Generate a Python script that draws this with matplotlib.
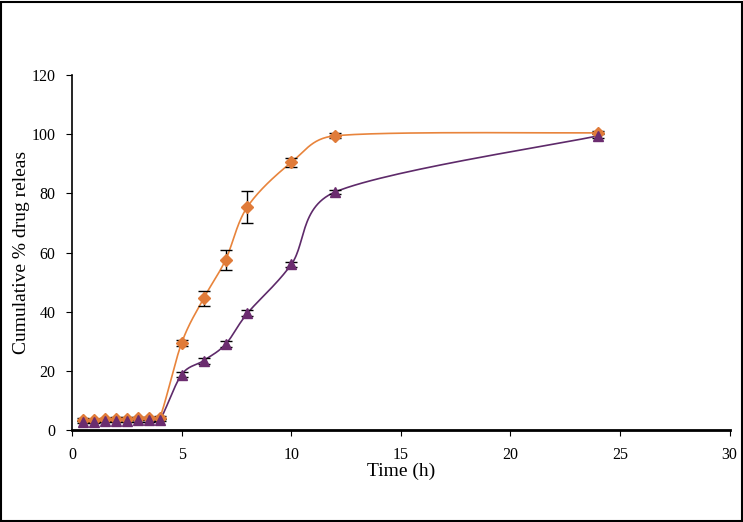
import numpy as np
import matplotlib.pyplot as plt
from matplotlib.patches import Rectangle

# Datos
tiempo = [0.5, 1, 1.5, 2, 2.5, 3, 3.5, 4, 5, 6, 7, 8, 10, 12, 24]
naranja = [3.5, 3.4, 3.6, 3.8, 3.8, 4.0, 4.1, 4.2, 29.5, 44.5, 57.5, 75.5, 90.5, 99.5, 100.5]
err_naranja = [0.5, 0.5, 0.5, 0.5, 0.5, 0.5, 0.5, 0.5, 1.0, 2.5, 3.5, 5.5, 1.5, 0.8, 0.5]
morado = [2.8, 2.8, 3.0, 3.2, 3.2, 3.3, 3.3, 3.4, 18.8, 23.5, 29.0, 39.5, 56.0, 80.5, 99.5]
err_morado = [0.4, 0.4, 0.4, 0.4, 0.4, 0.4, 0.4, 0.4, 1.0, 1.0, 1.0, 1.0, 1.0, 0.8, 0.8]

# escala aproximada en píxeles por unidad (para suavizar en espacio de pantalla)
SX, SY = 21.9, 2.96


def suavizar(x, y, n=30):
    # curva Bezier que pasa por todos los puntos (como la línea suavizada de Excel)
    p = np.column_stack([np.asarray(x, float) * SX, np.asarray(y, float) * SY])
    p = np.vstack([p[0], p, p[-1]])
    t = np.linspace(0, 1, n)[:, None]
    out = []
    for i in range(1, len(p) - 2):
        p0, p1, p2, p3 = p[i - 1], p[i], p[i + 1], p[i + 2]
        seg = np.linalg.norm(p2 - p1)
        h1 = (p2 - p0) / 6
        h2 = (p3 - p1) / 6
        # limitar el tirador para que no haga bucles
        for h in (h1, h2):
            L = np.linalg.norm(h)
            if L > 0.45 * seg:
                h *= 0.45 * seg / L
        c1 = p1 + h1
        c2 = p2 - h2
        b = (1 - t) ** 3 * p1 + 3 * (1 - t) ** 2 * t * c1 + 3 * (1 - t) * t ** 2 * c2 + t ** 3 * p2
        out.append(b)
    out = np.vstack(out)
    return out[:, 0] / SX, out[:, 1] / SY


plt.rcParams["font.family"] = ["Liberation Serif", "DejaVu Serif"]

fig = plt.figure(figsize=(7.43, 5.22), dpi=100)
ax = fig.add_axes([0.097, 0.176, 0.885, 0.68])

xs, ys = suavizar(tiempo, naranja)
ax.plot(xs, ys, color="#E8843C", linewidth=1.2, zorder=2)
xs, ys = suavizar(tiempo, morado)
ax.plot(xs, ys, color="#5E2A6A", linewidth=1.2, zorder=2)

ax.errorbar(tiempo, naranja, yerr=err_naranja, fmt="none", ecolor="black",
            elinewidth=1, capsize=4, zorder=3)
ax.errorbar(tiempo, morado, yerr=err_morado, fmt="none", ecolor="black",
            elinewidth=1, capsize=4, zorder=3)
ax.plot(tiempo, naranja, linestyle="none", marker="D", markersize=6,
        color="#E07B39", zorder=4)
ax.plot(tiempo, morado, linestyle="none", marker="^", markersize=7,
        color="#6B2C6F", zorder=5)

ax.set_xlim(0, 30)
ax.set_ylim(0, 120)
ax.set_xticks(range(0, 31, 5))
ax.set_yticks(range(0, 121, 20))
ax.spines["top"].set_visible(False)
ax.spines["right"].set_visible(False)
ax.spines["left"].set_linewidth(1.2)
ax.spines["bottom"].set_linewidth(2)
ax.tick_params(direction="out", length=4, width=0.8, labelsize=11.5, pad=8)
ax.set_xlabel("Time (h)", fontsize=14, labelpad=0)
ax.set_ylabel("Cumulative % drug releas", fontsize=14, labelpad=1)

fig.patches.append(Rectangle((0.001, 0.001), 0.997, 0.996, transform=fig.transFigure,
                             fill=False, edgecolor="black", linewidth=1.5))

fig.savefig("out.png", dpi=100)
